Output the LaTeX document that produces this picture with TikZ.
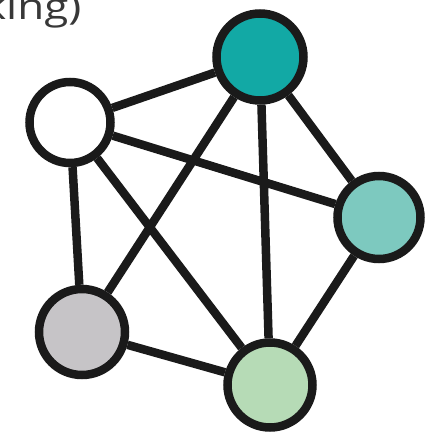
\documentclass[tikz,border=0pt]{standalone}
\usepackage{fontspec}
\setmainfont{Open Sans}
\newfontfamily\lblfont[FakeStretch=1.22]{Open Sans}
\usetikzlibrary{backgrounds}
\begin{document}
\begin{tikzpicture}[x=1pt,y=1pt,
  vtx/.style={circle,draw=outl,line width=8.5pt,inner sep=0pt},
  edge/.style={draw=outl,line width=8.5pt}]
\definecolor{outl}{HTML}{1A1A1A}
\definecolor{cteal}{HTML}{12A9A5}
\definecolor{clteal}{HTML}{7DC9BF}
\definecolor{cgrey}{HTML}{C6C4C7}
\definecolor{cgreen}{HTML}{B6DBB6}
\definecolor{ctext}{HTML}{383838}
\useasboundingbox (0,0) rectangle (426,432);
\node[font=\lblfont\fontsize{36}{42}\selectfont,text=ctext,anchor=base east,inner sep=0pt] (lbl) at (81.5,412) {king)};
\node[vtx,fill=white,minimum size=81pt] (w) at (70,309.5) {};
\node[vtx,fill=cteal,minimum size=87pt] (t) at (260,375) {};
\node[vtx,fill=clteal,minimum size=83pt] (r) at (379,214.5) {};
\node[vtx,fill=cgrey,minimum size=86pt] (g) at (82,100) {};
\node[vtx,fill=cgreen,minimum size=85pt] (l) at (270,47) {};
\begin{scope}[on background layer]
\draw[edge] (w) -- (t) (w) -- (r) (w) -- (g) (w) -- (l)
  (t) -- (g) (t) -- (l) (t) -- (r)
  (r) -- (l) (g) -- (l);
\end{scope}
\end{tikzpicture}
\end{document}
